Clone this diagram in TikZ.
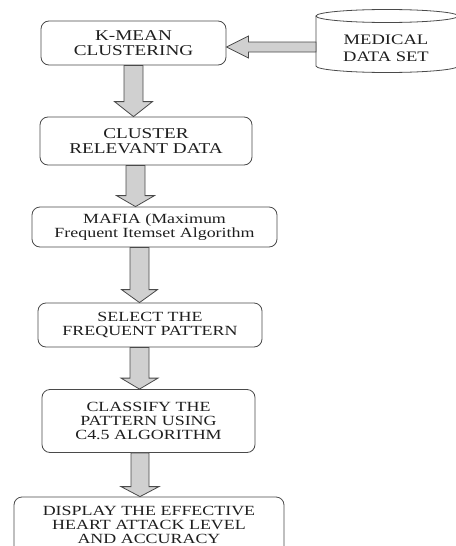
\documentclass[tikz,border=0pt]{standalone}
\usepackage{fontspec}
\newfontfamily\tnr[FakeStretch=1.28]{Liberation Serif}
\usetikzlibrary{calc}
\definecolor{txt}{HTML}{1E1E1E}
\definecolor{edge}{HTML}{4A4A4A}
\definecolor{blkfill}{HTML}{D0D0D0}
\tikzset{
  stepbox/.style={draw=edge, line width=0.8pt, rounded corners=8pt, text=txt, align=center, inner sep=0pt},
  blk/.style={draw=edge, line width=0.8pt, fill=blkfill, line join=miter},
  lbl/.style={text=txt, align=center, inner sep=0pt},
  big/.style={font=\tnr\fontsize{15}{15}\selectfont},
  norm/.style={font=\tnr\fontsize{14}{14.3}\selectfont},
}
% vertical block arrow: x, from node, to node, half shaft, half head, head length
\newcommand\vblk[6]{%
  \draw[blk] let \p1=(#2.south), \p2=(#3.north) in
    (#1pt-#4pt,\y1) -- (#1pt+#4pt,\y1) -- (#1pt+#4pt,\y2+#6pt) -- (#1pt+#5pt,\y2+#6pt)
    -- (#1pt,\y2) -- (#1pt-#5pt,\y2+#6pt) -- (#1pt-#4pt,\y2+#6pt) -- cycle;}
\begin{document}
\begin{tikzpicture}[x=1pt,y=-1pt]
\useasboundingbox (0,0) rectangle (455,546);
% process boxes
\node[stepbox, big, minimum width=185pt, minimum height=44pt] (b1) at (133.5,43) {K-MEAN\\CLUSTERING};
\node[stepbox, big, minimum width=212pt, minimum height=48pt] (b2) at (146,141) {CLUSTER\\RELEVANT DATA};
\node[stepbox, norm, minimum width=245pt, minimum height=40pt] (b3) at (154.5,227) {MAFIA (Maximum\\Frequent Itemset Algorithm};
\node[stepbox, norm, minimum width=224pt, minimum height=44pt] (b4) at (150,325) {SELECT THE\\FREQUENT PATTERN};
\node[stepbox, norm, minimum width=213pt, minimum height=63pt] (b5) at (148.5,421) {CLASSIFY THE\\PATTERN USING\\C4.5 ALGORITHM};
\node[stepbox, minimum width=270pt, minimum height=78pt] (b6) at (149,536) {};
\node[lbl, font=\tnr\fontsize{14}{13.6}\selectfont] (b6t) at (149,525) {DISPLAY THE EFFECTIVE\\HEART ATTACK LEVEL\\AND ACCURACY};
% database cylinder
\draw[edge, line width=0.8pt, fill=white] (316,16) -- (316,66) arc[start angle=180, end angle=360, x radius=71pt, y radius=6.5pt] -- (458,16);
\draw[edge, line width=0.8pt] (387,16) ellipse [x radius=71pt, y radius=6.5pt];
\node[lbl, font=\tnr\fontsize{14.5}{16.5}\selectfont] (mds) at (386,48.5) {MEDICAL\\DATA SET};
\coordinate (mdsw) at (316,47);
% horizontal arrow: data set -> k-mean
\draw[blk] let \p1=(mdsw), \p2=(b1.east) in
  (\x1,\y1+5pt) -- (\x1,\y1-5pt) -- (\x2+22pt,\y1-5pt) -- (\x2+22pt,\y1-11pt) -- (\x2,\y1)
  -- (\x2+22pt,\y1+11pt) -- (\x2+22pt,\y1+5pt) -- cycle;
% vertical arrows
\vblk{133.5}{b1}{b2}{9.5}{19}{15}
\vblk{135.5}{b2}{b3}{9.5}{19}{11}
\vblk{139.5}{b3}{b4}{9.5}{18}{13}
\vblk{139.5}{b4}{b5}{9.5}{18.5}{11}
\vblk{140}{b5}{b6}{9}{19}{10}
\end{tikzpicture}
\end{document}
